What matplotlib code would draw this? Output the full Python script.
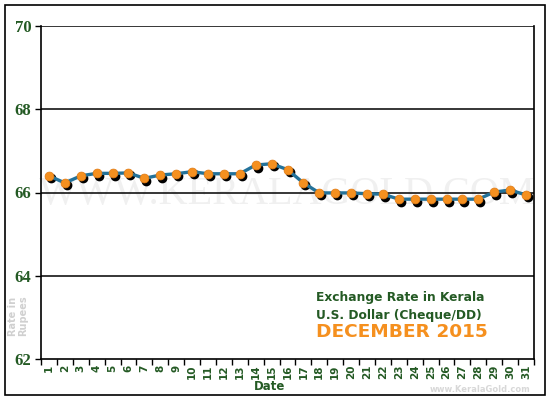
import matplotlib
matplotlib.use("Agg")
import matplotlib.pyplot as plt
import matplotlib.transforms as mtransforms
from matplotlib.patches import Rectangle

days = list(range(1, 32))
rates = [66.40, 66.23, 66.40, 66.46, 66.46, 66.47, 66.34, 66.42, 66.45, 66.50,
         66.45, 66.45, 66.45, 66.66, 66.69, 66.55, 66.23, 65.99, 65.99, 65.99,
         65.97, 65.96, 65.84, 65.84, 65.84, 65.84, 65.84, 65.84, 66.01, 66.06,
         65.94]
yticks = [62, 64, 66, 68, 70]
title1 = "Exchange Rate in Kerala"
title2 = "U.S. Dollar (Cheque/DD)"
title3 = "DECEMBER 2015"

green = "#245a24"
fig = plt.figure(figsize=(5.5, 4.0), dpi=100)
fig.patch.set_facecolor("white")
fig.patches.append(Rectangle((5/550, 5/400), 540/550, 390/400, transform=fig.transFigure,
                             fill=False, edgecolor="black", linewidth=1.2))

ax = fig.add_axes([41/550, 41/400, 493/550, 333/400])
ax.set_xlim(0.5, 31.5)
ax.set_ylim(62, 70)

# watermark
ax.text(0.5, 0.495, "WWW.KERALAGOLD.COM", transform=ax.transAxes, ha="center", va="center",
        fontsize=29, family="Liberation Serif", color="#f0f0f0", zorder=0)

for y in yticks[1:]:
    ax.axhline(y, color="black", linewidth=1.1, zorder=1)

shadow = mtransforms.offset_copy(ax.transData, fig=fig, x=2, y=-2.5, units="dots")
ax.plot(days, rates, linestyle="none", marker="o", markersize=6.0, color="black",
        transform=shadow, zorder=2)
ax.plot(days, rates, color="#23729a", linewidth=2.4, zorder=3)
ax.plot(days, rates, linestyle="none", marker="o", markersize=6.4,
        markerfacecolor="#f5901f", markeredgecolor="#e07a14", markeredgewidth=0.5, zorder=4)

ax.spines["top"].set_visible(False)
for s in ["left", "bottom", "right"]:
    ax.spines[s].set_color("black")
    ax.spines[s].set_linewidth(1.2)

ax.set_yticks(yticks)
ax.set_yticklabels([str(v) for v in yticks], family="Liberation Serif", fontweight="bold",
                   fontsize=12, color=green)
ax.tick_params(axis="y", length=4, width=1, pad=3)

ax.set_xticks(days)
ax.set_xticklabels([str(d) for d in days], rotation=90, fontweight="bold", fontsize=7.5,
                   color=green)
ax.set_xticks([d + 0.5 for d in range(0, 32)], minor=True)
ax.tick_params(axis="x", which="major", length=0, pad=4)
ax.tick_params(axis="x", which="minor", length=4, width=1)

fig.text(270/550, 1 - 387/400, "Date", ha="center", va="center", fontsize=8.5,
         fontweight="bold", color=green)
fig.text(18/550, 1 - 316/400, "Rate in\nRupees", rotation=90, ha="center", va="center",
         fontsize=7, fontweight="bold", color="#d0d0d0", linespacing=1.1)
fig.text(316/550, 1 - 298/400, title1, ha="left", va="center", fontsize=8.8,
         fontweight="bold", color=green)
fig.text(316/550, 1 - 315/400, title2, ha="left", va="center", fontsize=8.8,
         fontweight="bold", color=green)
fig.text(316/550, 1 - 332/400, title3, ha="left", va="center", fontsize=13.3,
         fontweight="bold", color="#f5901f")
fig.text(530/550, 1 - 389/400, "www.KeralaGold.com", ha="right", va="center", fontsize=6,
         fontweight="bold", color="#d8d8d8")

fig.savefig("out.png", dpi=100, facecolor="white")
